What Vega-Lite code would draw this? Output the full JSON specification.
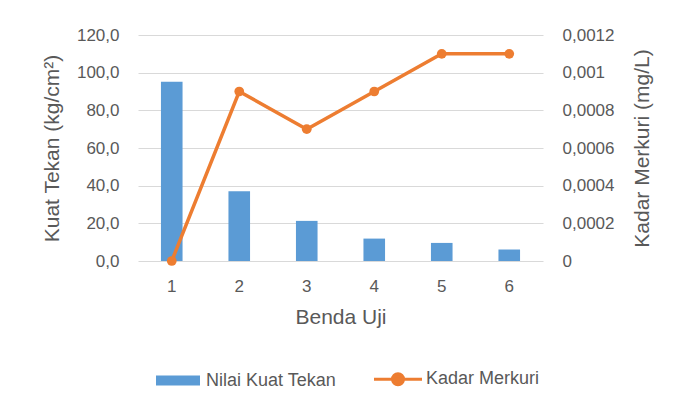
{
  "$schema": "https://vega.github.io/schema/vega-lite/v6.json",
  "autosize": {"type": "none"},
  "width": 405,
  "height": 226,
  "padding": {"left": 138, "top": 35, "right": 132, "bottom": 147},
  "background": "white",
  "config": {
    "font": "Liberation Sans",
    "view": {"stroke": null},
    "axis": {"labelColor": "#595959", "titleColor": "#595959", "labelFont": "Liberation Sans", "titleFont": "Liberation Sans", "titleFontWeight": "normal", "domain": false, "ticks": false, "labelFontSize": 17, "titleFontSize": 21, "gridColor": "#d9d9d9", "gridWidth": 1},
    "legend": {"labelColor": "#595959", "labelFont": "Liberation Sans", "labelFontSize": 18}
  },
  "data": {
    "values": [
      {"benda": "1", "kuat": 95.2, "merkuri": 0},
      {"benda": "2", "kuat": 37.1, "merkuri": 0.0009},
      {"benda": "3", "kuat": 21.3, "merkuri": 0.0007},
      {"benda": "4", "kuat": 11.9, "merkuri": 0.0009},
      {"benda": "5", "kuat": 9.6, "merkuri": 0.0011},
      {"benda": "6", "kuat": 6.1, "merkuri": 0.0011}
    ]
  },
  "encoding": {
    "x": {
      "field": "benda",
      "type": "ordinal",
      "scale": {"paddingInner": 0.68, "paddingOuter": 0.34},
      "axis": {"title": "Benda Uji", "labelAngle": 0, "labelPadding": 17, "titlePadding": 12, "grid": false}
    }
  },
  "layer": [
    {
      "mark": {"type": "bar"},
      "encoding": {
        "y": {
          "field": "kuat",
          "type": "quantitative",
          "scale": {"domain": [0, 120]},
          "axis": {"title": "Kuat Tekan (kg/cm²)", "values": [0, 20, 40, 60, 80, 100, 120], "labelExpr": "replace(format(datum.value, '.1f'), '.', ',')", "labelPadding": 19, "titlePadding": 14, "grid": true}
        },
        "color": {
          "datum": "Nilai Kuat Tekan",
          "scale": {"domain": ["Nilai Kuat Tekan", "Kadar Merkuri"], "range": ["#5B9BD5", "#ED7D31"]},
          "legend": {
            "title": null,
            "orient": "none",
            "legendX": 31,
            "legendY": 335,
            "direction": "horizontal",
            "columns": 2,
            "columnPadding": 31,
            "symbolSize": 400,
            "labelOffset": 19,
            "encode": {
              "symbols": {
                "update": {
                  "shape": {"signal": "datum.value === 'Kadar Merkuri' ? 'M-2.4,0H2.4M-0.55,0A0.55,0.55 0 1,0 0.55,0A0.55,0.55 0 1,0 -0.55,0' : 'M-2.2,-0.5H2.2V0.5H-2.2Z'"},
                  "fill": {"signal": "datum.value === 'Kadar Merkuri' ? '#ED7D31' : '#5B9BD5'"},
                  "stroke": {"signal": "datum.value === 'Kadar Merkuri' ? '#ED7D31' : '#5B9BD5'"},
                  "strokeWidth": {"signal": "datum.value === 'Kadar Merkuri' ? 3 : 0"},
                  "opacity": {"value": 1}
                }
              }
            }
          }
        }
      }
    },
    {
      "mark": {"type": "line", "strokeWidth": 3.5, "point": {"filled": true, "size": 95, "opacity": 1}},
      "encoding": {
        "y": {
          "field": "merkuri",
          "type": "quantitative",
          "scale": {"domain": [0, 0.0012]},
          "axis": {"title": "Kadar Merkuri  (mg/L)", "orient": "right", "titleAngle": -90, "titleBaseline": "top", "values": [0, 0.0002, 0.0004, 0.0006, 0.0008, 0.001, 0.0012], "labelExpr": "replace(format(datum.value, '.4~f'), '.', ',')", "labelPadding": 19, "titlePadding": 18, "grid": false}
        },
        "color": {"datum": "Kadar Merkuri"}
      }
    }
  ],
  "resolve": {"scale": {"y": "independent"}}
}
